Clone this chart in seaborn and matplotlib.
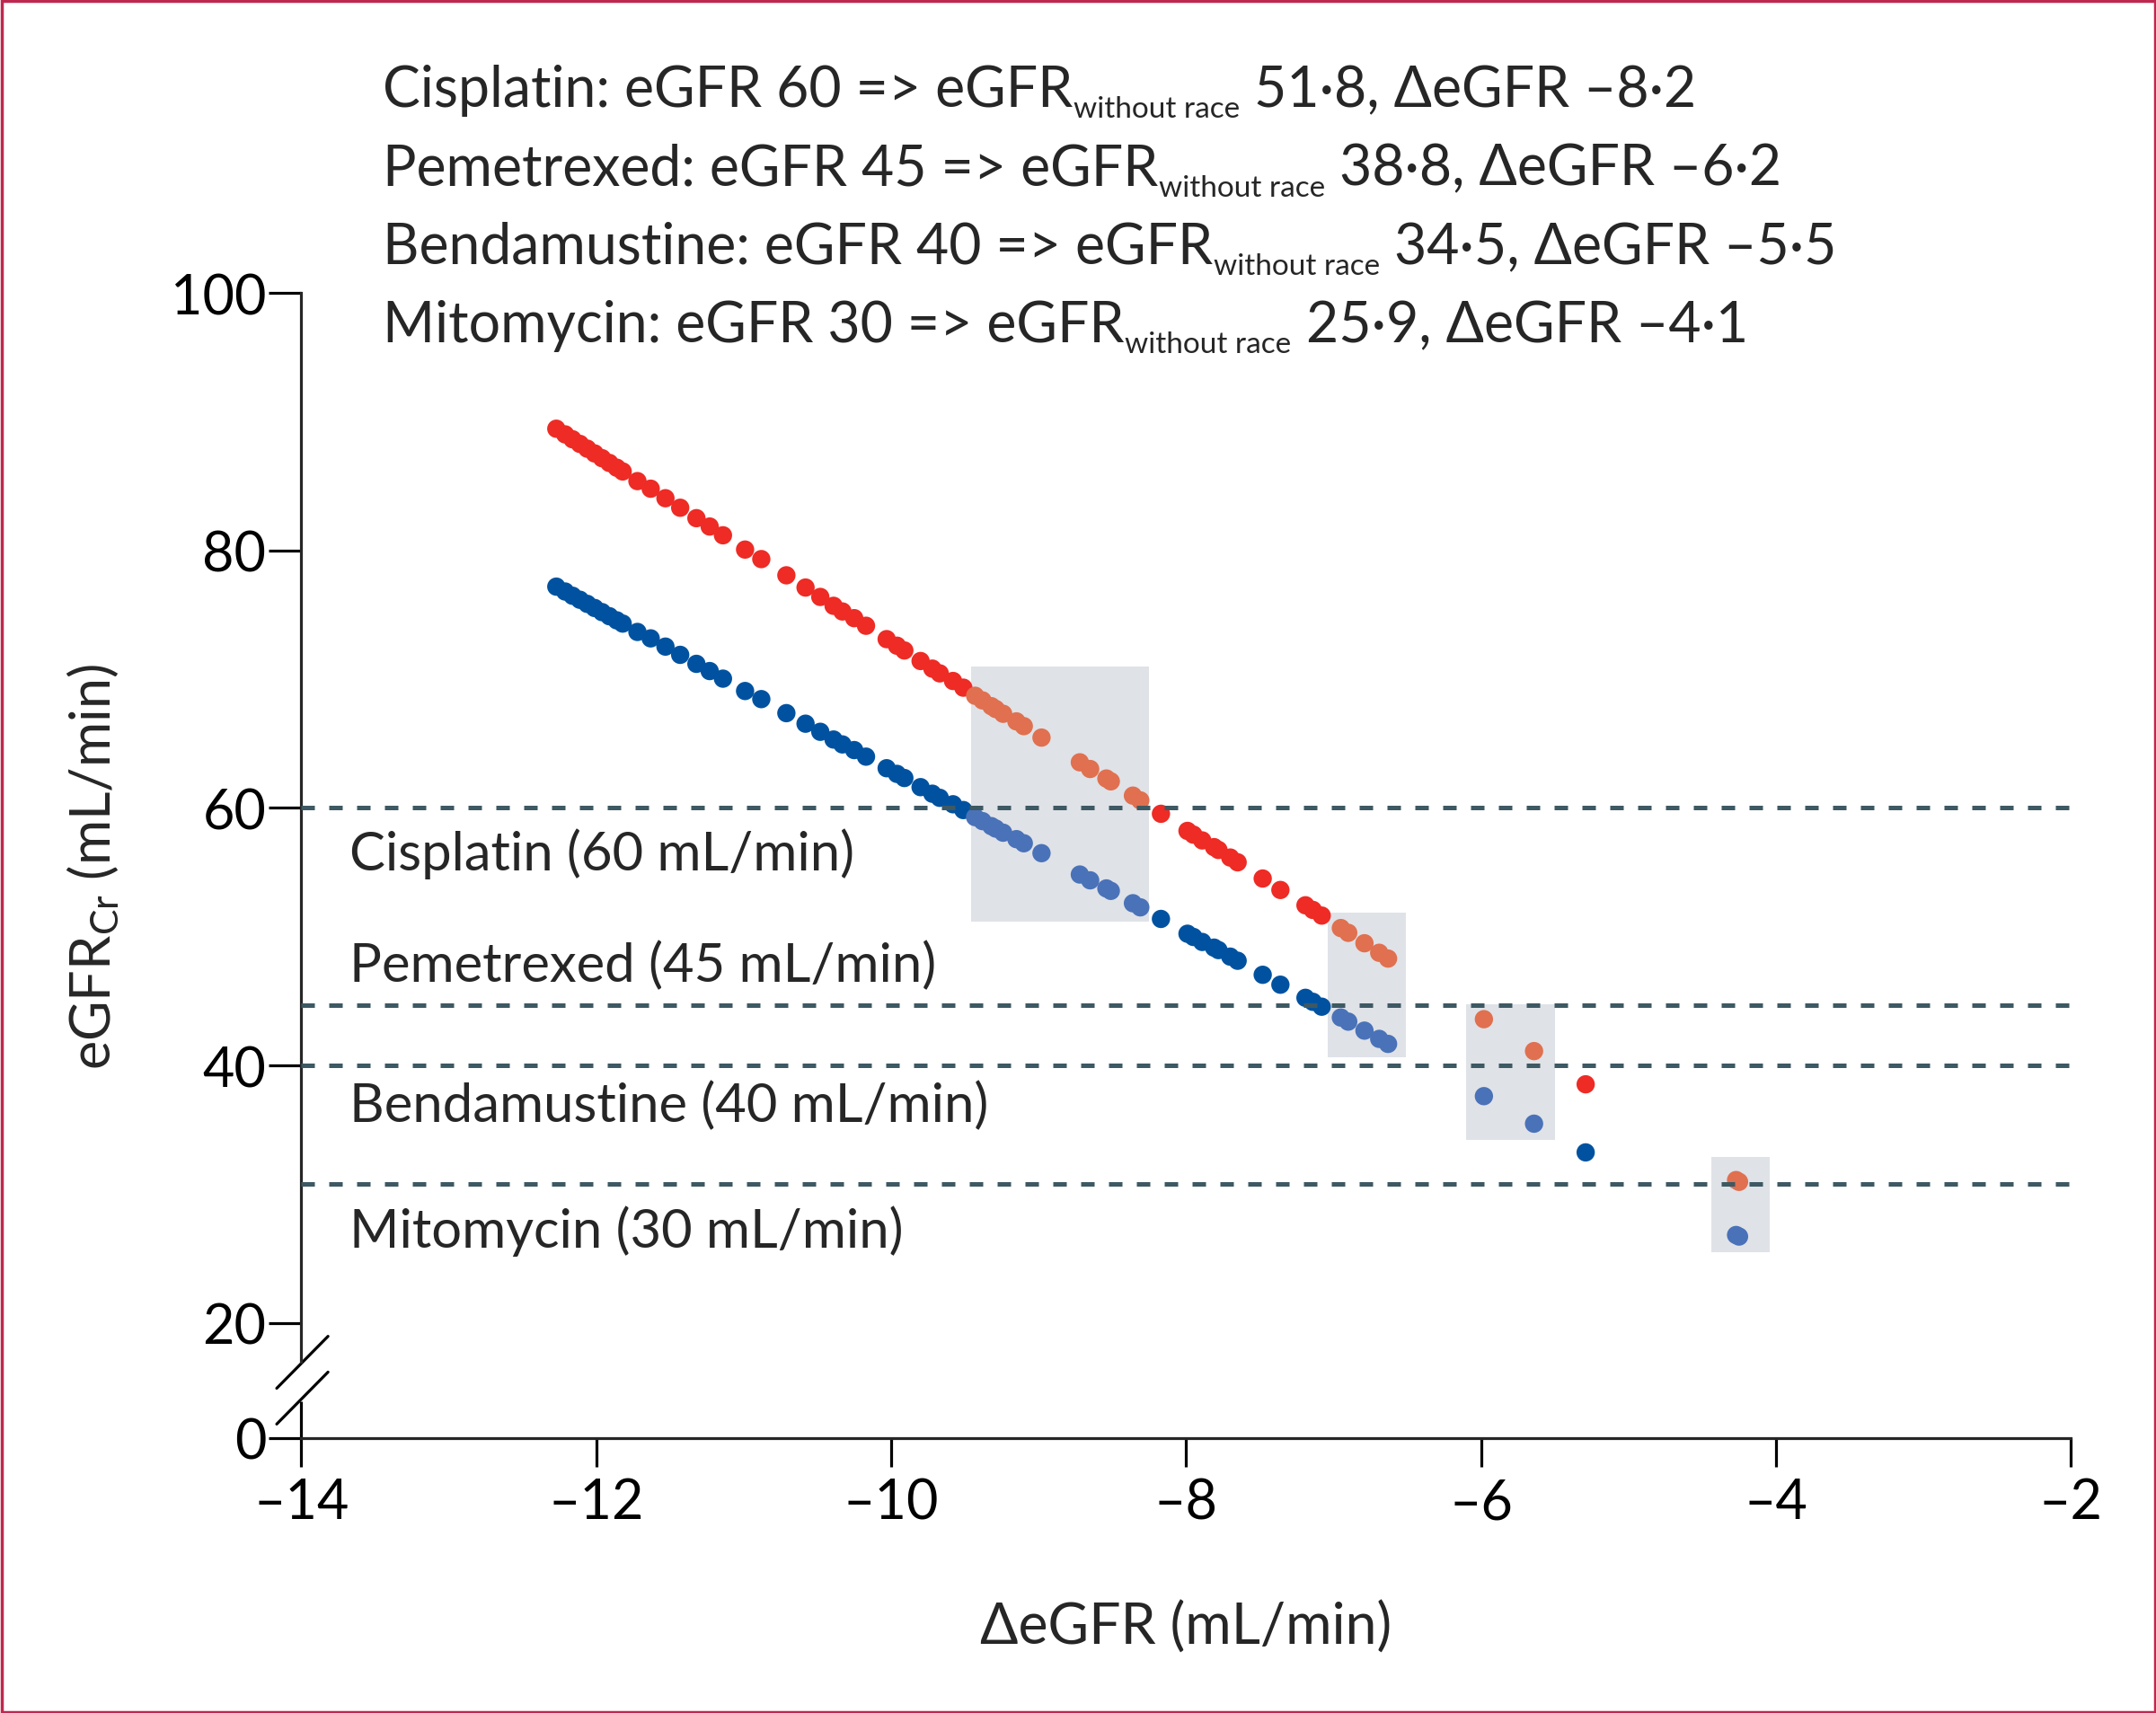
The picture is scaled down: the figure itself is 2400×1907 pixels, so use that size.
import pandas as pd
import seaborn as sns
import matplotlib.pyplot as plt
from matplotlib.patches import Rectangle

# values
delta_egfr = [-12.27, -12.21, -12.16, -12.11, -12.06, -12.01, -11.96, -11.91, -11.86, -11.82,
              -11.72, -11.63, -11.53, -11.43, -11.32, -11.23, -11.14, -10.99, -10.88, -10.71,
              -10.58, -10.48, -10.39, -10.33, -10.25, -10.17, -10.03, -9.96, -9.91, -9.80,
              -9.72, -9.67, -9.58, -9.51, -9.43, -9.38, -9.32, -9.29, -9.24, -9.15,
              -9.10, -8.98, -8.72, -8.65, -8.54, -8.51, -8.36, -8.31, -8.17, -7.99,
              -7.95, -7.89, -7.81, -7.78, -7.70, -7.65, -7.48, -7.36, -7.19, -7.14,
              -7.08, -6.95, -6.90, -6.79, -6.69, -6.63, -5.98, -5.64, -5.29, -4.27,
              -4.25]
egfr_race = [89.47, 89.03, 88.65, 88.29, 87.92, 87.55, 87.18, 86.81, 86.44, 86.15,
             85.40, 84.81, 84.07, 83.33, 82.52, 81.87, 81.19, 80.08, 79.34, 78.08,
             77.13, 76.40, 75.71, 75.27, 74.75, 74.16, 73.12, 72.61, 72.24, 71.42,
             70.83, 70.46, 69.87, 69.35, 68.72, 68.36, 67.91, 67.69, 67.32, 66.73,
             66.36, 65.47, 63.55, 63.03, 62.29, 62.07, 60.96, 60.59, 59.55, 58.22,
             57.93, 57.48, 56.96, 56.74, 56.15, 55.78, 54.52, 53.63, 52.44, 52.08,
             51.64, 50.67, 50.30, 49.49, 48.75, 48.30, 43.59, 41.11, 38.53, 31.09,
             30.95]
egfr_no_race = [77.20, 76.82, 76.49, 76.18, 75.86, 75.54, 75.22, 74.90, 74.58, 74.33,
                73.68, 73.18, 72.54, 71.90, 71.20, 70.64, 70.05, 69.09, 68.46, 67.37,
                66.55, 65.92, 65.32, 64.94, 64.50, 63.99, 63.09, 62.65, 62.33, 61.62,
                61.11, 60.79, 60.29, 59.84, 59.29, 58.98, 58.59, 58.40, 58.08, 57.58,
                57.26, 56.49, 54.83, 54.38, 53.75, 53.56, 52.60, 52.28, 51.38, 50.23,
                49.98, 49.59, 49.15, 48.96, 48.45, 48.13, 47.04, 46.27, 45.25, 44.94,
                44.56, 43.72, 43.40, 42.70, 42.06, 41.67, 37.61, 35.47, 33.24, 26.82,
                26.70]

thresholds = [60, 44.7, 40, 30.8]
threshold_labels = ['Cisplatin (60 mL/min)', 'Pemetrexed (45 mL/min)',
                    'Bendamustine (40 mL/min)', 'Mitomycin (30 mL/min)']
threshold_label_y = [56.5, 47.8, 36.9, 27.2]

# x0, x1, y0, y1
boxes = [(-9.46, -8.25, 51.2, 71.0), (-7.04, -6.51, 40.6, 51.9),
         (-6.10, -5.50, 34.2, 44.75), (-4.44, -4.04, 25.5, 32.9)]

drugs = ['Cisplatin', 'Pemetrexed', 'Bendamustine', 'Mitomycin']
egfr_cut = ['60', '45', '40', '30']
egfr_new = ['51·8', '38·8', '34·5', '25·9']
egfr_diff = ['–8·2', '–6·2', '–5·5', '–4·1']

FONT = 'Lato'
sns.set_style('ticks')
plt.rcParams['font.family'] = [FONT, 'DejaVu Sans']
plt.rcParams['mathtext.fontset'] = 'custom'
plt.rcParams['mathtext.rm'] = FONT
plt.rcParams['mathtext.it'] = FONT + ':italic'

# long table
def in_box(x, y):
    return any(b[0] <= x <= b[1] and b[2] <= y <= b[3] for b in boxes)

rows = []
for d, r, n in zip(delta_egfr, egfr_race, egfr_no_race):
    rows.append((d, r, 'race_box' if in_box(d, r) else 'race'))
    rows.append((d, n, 'norace_box' if in_box(d, n) else 'norace'))
df = pd.DataFrame(rows, columns=['delta', 'egfr', 'group'])

pal = {'race': '#ee2b25', 'race_box': '#e0704f',
       'norace': '#0052a0', 'norace_box': '#4a72b8'}

fig = plt.figure(figsize=(24, 19.08), dpi=100)
ax = fig.add_axes([0.1397, 0.1604, 0.8208, 0.668])

y_zero = 11.04
ax.set_xlim(-14, -2)
ax.set_ylim(y_zero, 100)

for b in boxes:
    ax.add_patch(Rectangle((b[0], b[2]), b[1] - b[0], b[3] - b[2],
                           facecolor='#dfe2e7', edgecolor='none', zorder=1))

sns.scatterplot(data=df, x='delta', y='egfr', hue='group', palette=pal,
                s=215, linewidth=0, legend=False, ax=ax, zorder=3)

for t in thresholds:
    ax.axhline(t, color='#3d5963', lw=3.6, dashes=(3, 3.2), zorder=4)
for lab, ly in zip(threshold_labels, threshold_label_y):
    ax.text(-13.67, ly, lab, fontsize=43, va='center', ha='left')

# axes styling
for s in ['top', 'right']:
    ax.spines[s].set_visible(False)
ax.spines['left'].set_bounds(17.0, 100)
ax.spines['left'].set_linewidth(2.3)
ax.spines['bottom'].set_linewidth(2.3)
ax.plot([-14, -14], [y_zero, 13.87], color='black', lw=2.3, clip_on=False,
        solid_capstyle='butt')
ax.plot([-14.166, -13.818], [14.91, 18.95], color='black', lw=2.3, clip_on=False)
ax.plot([-14.166, -13.818], [12.13, 16.17], color='black', lw=2.3, clip_on=False)

ax.set_yticks([y_zero, 20, 40, 60, 80, 100])
ax.set_yticklabels(['0', '20', '40', '60', '80', '100'])
ax.set_xticks([-14, -12, -10, -8, -6, -4, -2])
ax.set_xticklabels(['–14', '–12', '–10', '–8', '–6', '–4', '–2'])
ax.tick_params(axis='y', length=26, width=2.3, labelsize=44, pad=2, colors='black')
ax.tick_params(axis='x', length=23, width=2.3, labelsize=44, pad=8, colors='black')

ax.set_xlabel('ΔeGFR (mL/min)', fontsize=45, labelpad=58)
ax.set_ylabel('eGFR$_{\\mathregular{Cr}}$ (mL/min)', fontsize=44, labelpad=40)

# header lines with subscripts
base_y = [0.9374, 0.8917, 0.8460, 0.8003]
for i in range(4):
    t1 = fig.text(0.1773, base_y[i], f'{drugs[i]}: eGFR {egfr_cut[i]} => eGFR',
                  fontsize=45, va='baseline')
    t2 = ax.annotate('without race', xy=(1, 0), xycoords=t1, xytext=(1, -5),
                     textcoords='offset points', fontsize=24, va='bottom',
                     annotation_clip=False)
    ax.annotate(f' {egfr_new[i]}, ΔeGFR {egfr_diff[i]}', xy=(1, 0), xycoords=(t2, t1),
                fontsize=45, va='bottom', annotation_clip=False)

fig.patches.append(Rectangle((1.5 / 2400, 1.5 / 1908), 1 - 3 / 2400, 1 - 3 / 1908,
                             transform=fig.transFigure, fill=False,
                             edgecolor='#be2850', lw=2.5))

fig.savefig('out.png', dpi=100)
